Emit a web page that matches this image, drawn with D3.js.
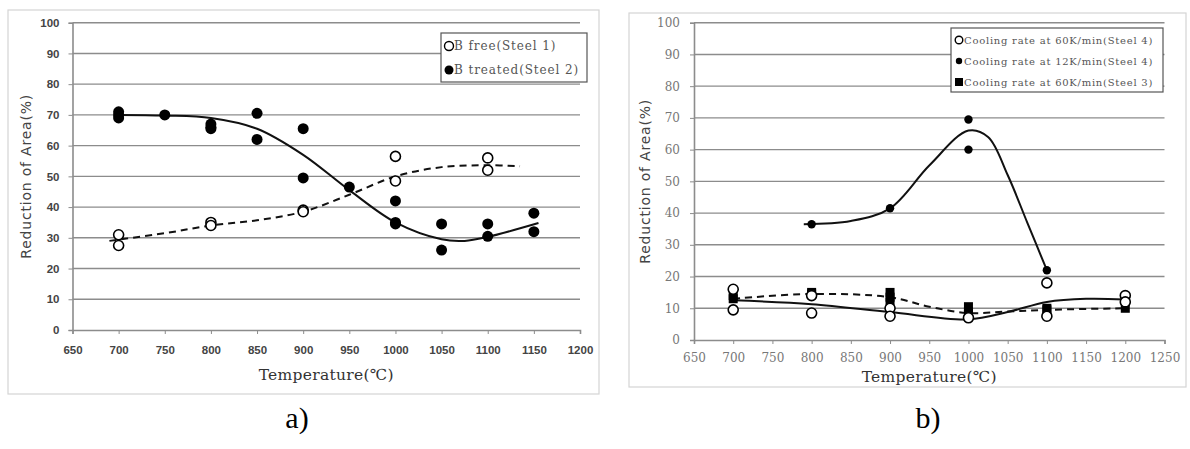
<!DOCTYPE html>
<html>
<head>
<meta charset="utf-8">
<script src="https://cdn.jsdelivr.net/npm/d3@7"></script>
<style>
  body { margin: 0; background: #fff; }
  svg { display: block; }
</style>
</head>
<body>
<svg width="1190" height="449"></svg>
<script>
// ---- chart a) : B free vs B treated ----
var xTicksA = [650, 700, 750, 800, 850, 900, 950, 1000, 1050, 1100, 1150, 1200];
var yTicks = [0, 10, 20, 30, 40, 50, 60, 70, 80, 90, 100];

var freeTemp = [700, 700, 800, 800, 900, 900, 1000, 1000, 1100, 1100];
var freeRoa = [31, 27.5, 35, 34, 39, 38.5, 56.5, 48.5, 56, 52];
var treatedTemp = [700, 700, 700, 750, 800, 800, 800, 850, 850, 900, 900, 950, 1000, 1000, 1000, 1050, 1050, 1100, 1100, 1150, 1150];
var treatedRoa = [71, 70, 69, 70, 67, 66, 65.5, 70.5, 62, 65.5, 49.5, 46.5, 42, 35, 34.5, 34.5, 26, 34.5, 30.5, 38, 32];

// fitted trend lines
var freeFitTemp = [690, 750, 800, 850, 900, 950, 1000, 1050, 1100, 1135];
var freeFitRoa = [29, 31.5, 34, 35.7, 38.5, 44, 50, 53, 53.6, 53.3];
var treatedFitTemp = [700, 750, 800, 850, 900, 950, 1000, 1050, 1075, 1100, 1155];
var treatedFitRoa = [70, 69.8, 69, 65.5, 57, 45.5, 35, 29.5, 29, 30.3, 34.8];

// ---- chart b) : cooling rate ----
var xTicksB = [650, 700, 750, 800, 850, 900, 950, 1000, 1050, 1100, 1150, 1200, 1250];

var fast4Temp = [700, 700, 800, 800, 900, 900, 1000, 1100, 1100, 1200, 1200];
var fast4Roa = [16, 9.5, 14, 8.5, 10, 7.5, 7, 18, 7.5, 14, 12];
var slow4Temp = [800, 900, 1000, 1000, 1100];
var slow4Roa = [36.5, 41.5, 69.5, 60, 22];
var fast3Temp = [700, 700, 800, 800, 900, 900, 900, 1000, 1000, 1000, 1100, 1100, 1200];
var fast3Roa = [14, 13, 15, 14.5, 15, 13.5, 12, 10.5, 9, 8, 10, 9.5, 10];

var fast4FitTemp = [700, 800, 900, 1000, 1050, 1100, 1150, 1200];
var fast4FitRoa = [12.5, 11.3, 8.8, 6.5, 8.8, 12, 13, 12.8];
var slow4FitTemp = [790, 850, 900, 950, 1000, 1025, 1050, 1075, 1100];
var slow4FitRoa = [36.5, 37.5, 41.5, 55, 66, 64, 52, 37, 22];
var fast3FitTemp = [700, 800, 900, 950, 1000, 1050, 1100, 1200];
var fast3FitRoa = [13, 14.5, 13.5, 10.5, 8.5, 9, 9.5, 10];

var svg = d3.select("svg");

function zip(xs, ys)
{
	var out = [];
	for (var i = 0; i < xs.length; i++)
		out.push([xs[i], ys[i]]);
	return out;
}

// draws one framed panel; returns its scales for the marks
function drawPanel(cfg)
{
	// outer frame
	svg.append("rect")
		.attr("x", cfg.frame[0]).attr("y", cfg.frame[1])
		.attr("width", cfg.frame[2]).attr("height", cfg.frame[3])
		.attr("fill", "#fff").attr("stroke", "#d4d4d4").attr("stroke-width", 1.2);

	var x = d3.scaleLinear().domain(cfg.xDomain).range([cfg.left, cfg.right]);
	var y = d3.scaleLinear().domain([0, 100]).range([cfg.bottom, cfg.top]);
	var g = svg.append("g");

	// horizontal gridlines
	g.selectAll(".grid").data(cfg.yTicks.filter(function(d) { return d > 0; }))
		.enter().append("line")
		.attr("x1", cfg.left).attr("x2", cfg.right)
		.attr("y1", function(d) { return y(d); })
		.attr("y2", function(d) { return y(d); })
		.attr("stroke", "#8c8c8c").attr("stroke-width", 1.4);

	var xAxis = g.append("g")
		.attr("transform", "translate(0," + cfg.bottom + ")")
		.call(d3.axisBottom(x).tickValues(cfg.xTicks).tickFormat(d3.format("d")).tickSize(4).tickPadding(cfg.xPad));
	var yAxis = g.append("g")
		.attr("transform", "translate(" + cfg.left + ",0)")
		.call(d3.axisLeft(y).tickValues(cfg.yTicks).tickFormat(d3.format("d")).tickSize(4).tickPadding(cfg.yPad));

	[xAxis, yAxis].forEach(function(ax) {
		ax.select(".domain").attr("stroke", "#8c8c8c").attr("stroke-width", 1.6);
		ax.selectAll(".tick line").attr("stroke", "#8c8c8c");
		ax.selectAll("text")
			.attr("font-family", cfg.tickFont)
			.attr("font-weight", cfg.tickWeight)
			.attr("font-size", cfg.tickSize)
			.attr("fill", cfg.tickColor);
	});

	// axis titles
	g.append("text")
		.attr("x", (cfg.left + cfg.right) / 2).attr("y", cfg.xTitleY)
		.attr("text-anchor", "middle")
		.attr("font-family", "'DejaVu Serif', 'Liberation Serif', serif")
		.attr("font-size", 15.5).attr("fill", "#333")
		.attr("letter-spacing", 0.3)
		.text("Temperature(\u2103)");
	g.append("text")
		.attr("transform", "translate(" + cfg.yTitleX + "," + ((cfg.top + cfg.bottom) / 2) + ") rotate(-90)")
		.attr("text-anchor", "middle")
		.attr("font-family", "'DejaVu Sans', sans-serif")
		.attr("font-size", 14).attr("fill", "#444")
		.attr("letter-spacing", 0.8)
		.text("Reduction of Area(%)");

	return { x: x, y: y, g: g };
}

function fitLine(p, pts, dashed)
{
	var line = d3.line()
		.x(function(d) { return p.x(d[0]); })
		.y(function(d) { return p.y(d[1]); })
		.curve(d3.curveCatmullRom.alpha(0.5));
	p.g.append("path")
		.datum(pts)
		.attr("d", line)
		.attr("fill", "none")
		.attr("stroke", "#111")
		.attr("stroke-width", 2)
		.attr("stroke-dasharray", dashed ? "7,5" : null);
}

function dots(p, pts, r, open)
{
	p.g.selectAll(null).data(pts).enter().append("circle")
		.attr("cx", function(d) { return p.x(d[0]); })
		.attr("cy", function(d) { return p.y(d[1]); })
		.attr("r", r)
		.attr("fill", open ? "#fff" : "#000")
		.attr("stroke", "#000")
		.attr("stroke-width", open ? 1.6 : 0);
}

function squares(p, pts, s)
{
	p.g.selectAll(null).data(pts).enter().append("rect")
		.attr("x", function(d) { return p.x(d[0]) - s / 2; })
		.attr("y", function(d) { return p.y(d[1]) - s / 2; })
		.attr("width", s).attr("height", s)
		.attr("fill", "#000");
}

function legend(p, box, items, fontSize, spacing)
{
	p.g.append("rect")
		.attr("x", box[0]).attr("y", box[1]).attr("width", box[2]).attr("height", box[3])
		.attr("fill", "#fff").attr("stroke", "#555").attr("stroke-width", 1.2);
	items.forEach(function(it, i) {
		var cy = box[1] + it.dy;
		var mx = box[0] + 8;
		if (it.kind == "square")
			p.g.append("rect").attr("x", mx - 4).attr("y", cy - 4).attr("width", 8).attr("height", 8).attr("fill", "#000");
		else
			p.g.append("circle").attr("cx", mx).attr("cy", cy).attr("r", it.r)
				.attr("fill", it.kind == "open" ? "#fff" : "#000")
				.attr("stroke", "#000").attr("stroke-width", it.kind == "open" ? 1.4 : 0);
		p.g.append("text")
			.attr("x", mx + 5).attr("y", cy + fontSize * 0.36)
			.attr("font-family", "'DejaVu Serif', 'Liberation Serif', serif")
			.attr("font-size", fontSize).attr("fill", "#555")
			.attr("letter-spacing", spacing)
			.text(it.label);
	});
}

// panel a)
var pa = drawPanel({
	frame: [8, 10, 591, 384],
	xDomain: [650, 1200], left: 72.5, right: 580, top: 22.7, bottom: 330,
	xTicks: xTicksA, yTicks: yTicks, xPad: 12, yPad: 9,
	tickFont: "'Liberation Sans', Arial, sans-serif", tickWeight: "bold", tickSize: 11.5, tickColor: "#444",
	xTitleY: 380, yTitleX: 31
});
fitLine(pa, zip(freeFitTemp, freeFitRoa), true);
fitLine(pa, zip(treatedFitTemp, treatedFitRoa), false);
dots(pa, zip(freeTemp, freeRoa), 5, true);
dots(pa, zip(treatedTemp, treatedRoa), 5.5, false);
legend(pa, [441, 33, 146, 49], [
	{ kind: "open", r: 4.5, dy: 13, label: "B free(Steel 1)" },
	{ kind: "filled", r: 4.5, dy: 37, label: "B treated(Steel 2)" }
], 12, 0.9);

// panel b)
var pb = drawPanel({
	frame: [629, 13, 557, 374],
	xDomain: [650, 1250], left: 694, right: 1164.5, top: 22.7, bottom: 340,
	xTicks: xTicksB, yTicks: yTicks, xPad: 9, yPad: 10,
	tickFont: "'DejaVu Serif', 'Liberation Serif', serif", tickWeight: "normal", tickSize: 12, tickColor: "#777",
	xTitleY: 382, yTitleX: 650
});
fitLine(pb, zip(fast3FitTemp, fast3FitRoa), true);
fitLine(pb, zip(fast4FitTemp, fast4FitRoa), false);
fitLine(pb, zip(slow4FitTemp, slow4FitRoa), false);
squares(pb, zip(fast3Temp, fast3Roa), 9);
dots(pb, zip(fast4Temp, fast4Roa), 5, true);
dots(pb, zip(slow4Temp, slow4Roa), 4.2, false);
legend(pb, [951, 28, 212, 64], [
	{ kind: "open", r: 3.8, dy: 12, label: "Cooling rate at 60K/min(Steel 4)" },
	{ kind: "filled", r: 3.2, dy: 33, label: "Cooling rate at 12K/min(Steel 4)" },
	{ kind: "square", dy: 54, label: "Cooling rate at 60K/min(Steel 3)" }
], 10, 0.75);

// panel captions
svg.append("text").attr("x", 297).attr("y", 428).attr("text-anchor", "middle")
	.attr("font-family", "'Liberation Serif', serif").attr("font-size", 30).attr("fill", "#000")
	.text("a)");
svg.append("text").attr("x", 928).attr("y", 428).attr("text-anchor", "middle")
	.attr("font-family", "'Liberation Serif', serif").attr("font-size", 30).attr("fill", "#000")
	.text("b)");
</script>
</body>
</html>
